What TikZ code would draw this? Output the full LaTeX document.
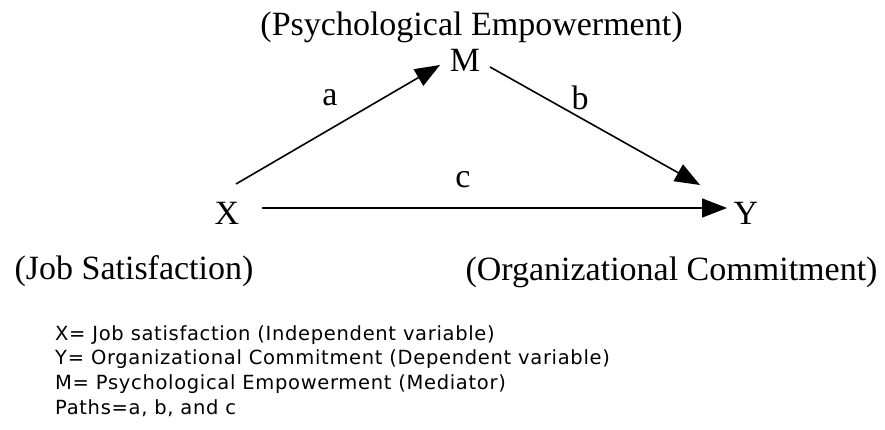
\documentclass[tikz,border=0pt]{standalone}
\usepackage{fontspec}
\setmainfont{Liberation Serif}
\newfontfamily\notefont[LetterSpace=3.5]{DejaVu Sans}
\usetikzlibrary{arrows.meta,positioning}

\tikzset{
  var/.style={inner sep=2pt, font=\fontsize{34}{40}\selectfont},
  desc/.style={inner sep=2pt, font=\fontsize{34}{40}\selectfont},
  coef/.style={inner sep=2pt, font=\fontsize{34}{40}\selectfont},
  note/.style={inner sep=0pt, anchor=base west, font=\notefont\fontsize{19.5}{22}\selectfont},
  link/.style={line width=1.6pt, -{Triangle[length=25pt,width=19pt]}}
}

\begin{document}
\begin{tikzpicture}[x=1pt,y=1pt]

  \useasboundingbox (0,0) rectangle (885,430);

  % Define nodes

  % M
  \node[var] (m) at (465,370) {M};
  \node[desc] (m-caption) at (471.5,403) {(Psychological Empowerment)};

  % X
  \node[var] (x) at (227,217) {X};
  \node[desc] (x-caption) at (134,159) {(Job Satisfaction)};

  % Y
  \node[var] (y) at (746,217) {Y};
  \node[desc] (y-caption) at (671.5,158) {(Organizational Commitment)};

  % Path labels
  \node[coef] (a) at (330,332) {a};
  \node[coef] (b) at (580,332) {b};
  \node[coef] (c) at (463,250) {c};

  % Edges
  \draw[link] ([shift={(9,29)}]x.center) -- ([shift={(-25,-5)}]m.center);
  \draw[link] ([shift={(25,-7)}]m.center) -- ([shift={(-46,28)}]y.center);
  \draw[link] ([shift={(35,5)}]x.center) -- ([shift={(-19,5)}]y.center);

  % Key
  \node[note] (key-x) at (55,89) {X= Job satisfaction (Independent variable)};
  \node[note] (key-y) at (55,65) {Y= Organizational Commitment (Dependent variable)};
  \node[note] (key-m) at (55,40) {M= Psychological Empowerment (Mediator)};
  \node[note] (key-paths) at (55,15) {Paths=a, b, and c};

\end{tikzpicture}
\end{document}
